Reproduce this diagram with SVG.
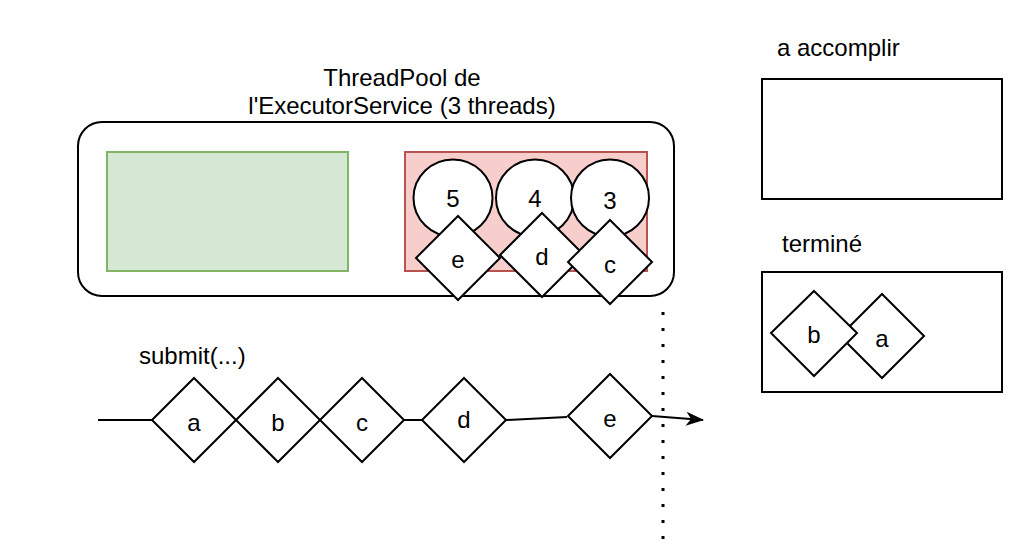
<svg xmlns="http://www.w3.org/2000/svg" width="1030" height="558" viewBox="0 0 1030 558">
<style>
text{font-family:"Liberation Sans",Arial,sans-serif;font-size:24px;fill:#000}
.lbl{text-anchor:middle}
.dia{fill:#fff;stroke:#000;stroke-width:2}
.box{fill:#fff;stroke:#000;stroke-width:2}
.thr{fill:#fff;stroke:#000;stroke-width:2}
.conn{fill:none;stroke:#000;stroke-width:2}
</style>
<defs>
<marker id="arrow" viewBox="0 0 10 10" refX="9" refY="5" markerWidth="8" markerHeight="8" markerUnits="userSpaceOnUse" orient="auto">
<path d="M0,0 L10,5 L0,10 L3,5 Z" fill="#000"/>
</marker>
<marker id="arr" viewBox="0 0 18 14" refX="17" refY="7" markerWidth="18" markerHeight="14" markerUnits="userSpaceOnUse" orient="auto">
<path d="M0,0 L18,7 L0,14 L5,7 Z" fill="#000"/>
</marker>
</defs>
<rect width="1030" height="558" fill="#fff"/>

<g id="threadpool">
<rect class="box" x="78" y="122" width="596" height="174" rx="24" ry="24"/>
<text class="lbl" x="402" y="86">ThreadPool de</text>
<text class="lbl" x="402" y="114">l'ExecutorService (3 threads)</text>
</g>
<g id="queue">
<rect x="107" y="152" width="241" height="119" fill="#d5e8d4" stroke="#82b366" stroke-width="2"/>
</g>
<g id="workers">
<rect x="405" y="152" width="242" height="119" fill="#f8cecc" stroke="#b85450" stroke-width="2"/>
</g>
<g id="thread5"><ellipse class="thr" cx="453" cy="198" rx="39.5" ry="38.5"/><text class="lbl" x="453" y="207">5</text></g>
<g id="thread4"><ellipse class="thr" cx="535" cy="198" rx="39" ry="38.5"/><text class="lbl" x="535" y="207">4</text></g>
<g id="thread3"><ellipse class="thr" cx="610" cy="198" rx="39" ry="38.5"/><text class="lbl" x="610" y="209">3</text></g>
<g id="task-e-running"><path class="dia" d="M458,216 L500,258 L458,300 L416,258 Z"/><text class="lbl" x="458" y="268">e</text></g>
<g id="task-d-running"><path class="dia" d="M542,213 L584,255 L542,297 L500,255 Z"/><text class="lbl" x="542" y="265">d</text></g>
<g id="task-c-running"><path class="dia" d="M610,220 L652,262 L610,304 L568,262 Z"/><text class="lbl" x="610" y="273">c</text></g>

<g id="connectors">
<path class="conn" d="M98,420 L152,420"/>
<path class="conn" d="M404,420 L422,420"/>
<path class="conn" d="M506,420 L567,417"/>
<path class="conn" d="M652,416 L703,420" marker-end="url(#arr)"/>
</g>

<g id="submit-label"><text x="139" y="364">submit(...)</text></g>
<g id="task-a"><path class="dia" d="M194,378 L236,420 L194,462 L152,420 Z"/><text class="lbl" x="194" y="431">a</text></g>
<g id="task-b"><path class="dia" d="M278,378 L320,420 L278,462 L236,420 Z"/><text class="lbl" x="278" y="431">b</text></g>
<g id="task-c"><path class="dia" d="M362,378 L404,420 L362,462 L320,420 Z"/><text class="lbl" x="362" y="431">c</text></g>
<g id="task-d"><path class="dia" d="M464,378 L506,420 L464,462 L422,420 Z"/><text class="lbl" x="464" y="428">d</text></g>
<g id="task-e"><path class="dia" d="M610,374 L652,416 L610,458 L568,416 Z"/><text class="lbl" x="610" y="427">e</text></g>

<g id="divider"><path d="M663,312 L663,540" fill="none" stroke="#000" stroke-width="3" stroke-dasharray="3 13"/></g>

<g id="todo">
<text x="777" y="56">a accomplir</text>
<rect class="box" x="762" y="79" width="240" height="120"/>
</g>
<g id="done">
<text x="782" y="252">terminé</text>
<rect class="box" x="762" y="272" width="240" height="120"/>
</g>
<g id="done-a"><path class="dia" d="M882,294 L924,336 L882,378 L840,336 Z"/><text class="lbl" x="882" y="347">a</text></g>
<g id="done-b"><path class="dia" d="M814,291 L857,333 L814,376 L771,333 Z"/><text class="lbl" x="814" y="343">b</text></g>
</svg>
